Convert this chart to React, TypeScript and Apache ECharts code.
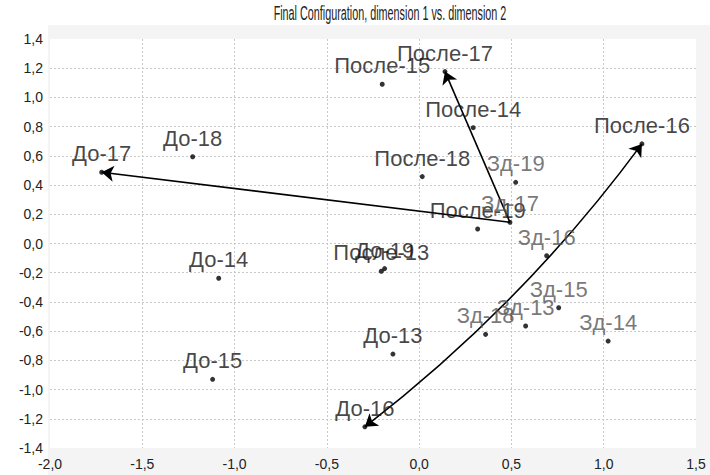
import React, { useEffect, useRef } from "react";
import * as echarts from "echarts";

const pointLabels = [
  "До-13", "До-14", "До-15", "До-16", "До-17", "До-18", "До-19",
  "После-13", "После-14", "После-15", "После-16", "После-17", "После-18", "После-19",
  "Зд-13", "Зд-14", "Зд-15", "Зд-16", "Зд-17", "Зд-18", "Зд-19",
];
const dim1 = [
  -0.142, -1.086, -1.119, -0.294, -1.72, -1.227, -0.187,
  -0.205, 0.293, -0.2, 1.207, 0.14, 0.017, 0.317,
  0.577, 1.024, 0.756, 0.691, 0.492, 0.36, 0.523,
];
const dim2 = [
  -0.757, -0.238, -0.93, -1.255, 0.488, 0.594, -0.172,
  -0.19, 0.793, 1.09, 0.682, 1.177, 0.458, 0.099,
  -0.565, -0.668, -0.44, -0.084, 0.145, -0.622, 0.419,
];
const arrowFrom = ["Зд-17", "Зд-17"];
const arrowTo = ["До-17", "После-17"];
const doubleFrom = ["До-16"];
const doubleTo = ["После-16"];

const xTicks = { min: -2, max: 1.5, step: 0.5 };
const yTicks = { min: -1.4, max: 1.4, step: 0.2 };

const titleText = "Final Configuration, dimension 1 vs. dimension 2";

const coordOf = (name: string) => {
  const i = pointLabels.indexOf(name);
  return [dim1[i], dim2[i]];
};

const fmt = (v: number) => v.toFixed(1).replace(".", ",");

export default function App() {
  const ref = useRef<HTMLDivElement>(null);
  useEffect(() => {
    if (!ref.current) return;
    document.body.style.margin = "0";
    const chart = echarts.init(ref.current, null, { renderer: "svg" });
    const font = "Liberation Sans, Arial, sans-serif";
    const scatterData = pointLabels.map((name, i) => ({
      value: [dim1[i], dim2[i]],
      name,
      label: { color: name.startsWith("Зд") ? "#555555" : "#151515" },
    }));
    chart.setOption({
      animation: false,
      backgroundColor: "#ffffff",
      graphic: [
        {
          type: "rect",
          z: -10,
          silent: true,
          shape: { x: 48, y: 25, width: 662, height: 450 },
          style: { fill: "#f4f4f4" },
        },
        {
          type: "text",
          x: 390,
          y: 23,
          scaleX: 0.72,
          scaleY: 1.3,
          style: {
            text: titleText,
            font: "15px Liberation Sans, Arial, sans-serif",
            fill: "#222222",
            textAlign: "center",
            textVerticalAlign: "bottom",
          },
        },
      ],
      grid: {
        left: 50,
        right: 14,
        top: 39,
        bottom: 27,
        show: true,
        backgroundColor: "#ffffff",
        borderWidth: 0,
      },
      xAxis: {
        type: "value",
        min: xTicks.min,
        max: xTicks.max,
        interval: xTicks.step,
        axisLine: { show: false },
        axisTick: { show: false },
        axisLabel: {
          formatter: fmt,
          color: "#222222",
          fontSize: 14,
          fontFamily: font,
          margin: 9,
        },
        splitLine: {
          show: true,
          showMinLine: false,
          showMaxLine: false,
          lineStyle: { color: "#c8c8c8", type: [2, 2], width: 1 },
        },
      },
      yAxis: {
        type: "value",
        min: yTicks.min,
        max: yTicks.max,
        interval: yTicks.step,
        axisLine: { show: false },
        axisTick: { show: false },
        axisLabel: {
          formatter: fmt,
          color: "#222222",
          fontSize: 14,
          fontFamily: font,
          margin: 7,
        },
        splitLine: {
          show: true,
          showMinLine: false,
          showMaxLine: false,
          lineStyle: { color: "#c8c8c8", type: [2, 2], width: 1 },
        },
      },
      series: [
        {
          type: "lines",
          coordinateSystem: "cartesian2d",
          symbol: ["none", "arrow"],
          symbolSize: 12,
          lineStyle: { color: "#000", width: 1.6, curveness: 0, opacity: 1 },
          data: arrowFrom.map((f, i) => ({ coords: [coordOf(f), coordOf(arrowTo[i])] })),
          z: 3,
        },
        {
          type: "lines",
          coordinateSystem: "cartesian2d",
          symbol: ["arrow", "arrow"],
          symbolSize: 12,
          lineStyle: { color: "#000", width: 1.6, curveness: -0.07, opacity: 1 },
          data: doubleFrom.map((f, i) => ({ coords: [coordOf(f), coordOf(doubleTo[i])] })),
          z: 3,
        },
        {
          type: "scatter",
          symbol: "circle",
          symbolSize: 5,
          itemStyle: { color: "#000" },
          label: {
            show: true,
            position: "top",
            distance: 5,
            formatter: (p: any) => p.name,
            fontSize: 22,
            fontFamily: font,
          },
          data: scatterData,
          z: 4,
        },
      ],
    });
    return () => chart.dispose();
  }, []);
  return <div ref={ref} style={{ width: 710, height: 475 }} />;
}
